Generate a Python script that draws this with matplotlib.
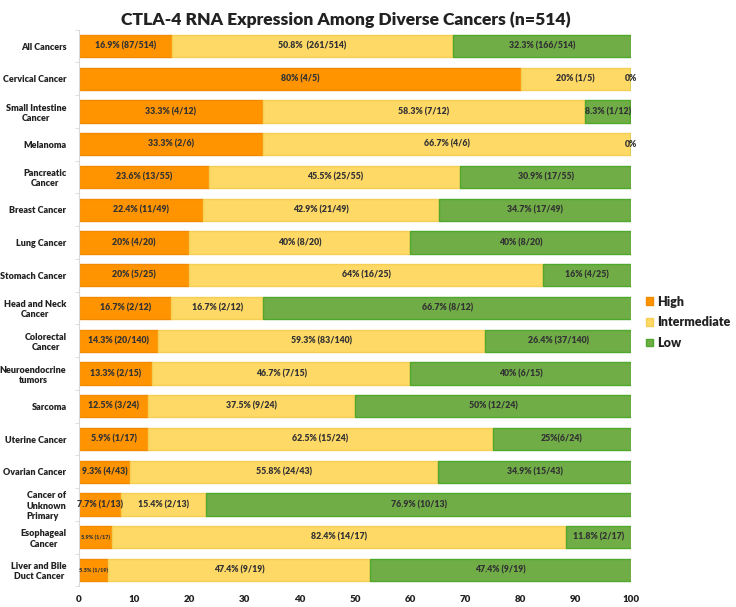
import matplotlib
matplotlib.use("Agg")
import matplotlib.pyplot as plt
import numpy as np

categories = ["All Cancers", "Cervical Cancer", "Small Intestine\nCancer", "Melanoma",
              "Pancreatic\nCancer", "Breast Cancer", "Lung Cancer", "Stomach Cancer",
              "Head and Neck\nCancer", "Colorectal\nCancer", "Neuroendocrine\ntumors",
              "Sarcoma", "Uterine Cancer", "Ovarian Cancer", "Cancer of\nUnknown\nPrimary",
              "Esophageal\nCancer", "Liver and Bile\nDuct Cancer"]

high = [16.9, 80, 33.3, 33.3, 23.6, 22.4, 20, 20, 16.7, 14.3, 13.3, 12.5, 12.5, 9.3, 7.7, 5.9, 5.3]
intermediate = [50.8, 20, 58.3, 66.7, 45.5, 42.9, 40, 64, 16.7, 59.3, 46.7, 37.5, 62.5, 55.8, 15.4, 82.4, 47.4]
low = [32.3, 0, 8.3, 0, 30.9, 34.7, 40, 16, 66.7, 26.4, 40, 50, 25, 34.9, 76.9, 11.8, 47.4]

high_labels = ["16.9% (87/514)", "80% (4/5)", "33.3% (4/12)", "33.3% (2/6)", "23.6% (13/55)",
               "22.4% (11/49)", "20% (4/20)", "20% (5/25)", "16.7% (2/12)", "14.3% (20/140)",
               "13.3% (2/15)", "12.5% (3/24)", "5.9% (1/17)", "9.3% (4/43)", "7.7% (1/13)",
               "5.9% (1/17)", "5.3% (1/19)"]
int_labels = ["50.8%  (261/514)", "20% (1/5)", "58.3% (7/12)", "66.7% (4/6)", "45.5% (25/55)",
              "42.9% (21/49)", "40% (8/20)", "64% (16/25)", "16.7% (2/12)", "59.3% (83/140)",
              "46.7% (7/15)", "37.5% (9/24)", "62.5% (15/24)", "55.8% (24/43)", "15.4% (2/13)",
              "82.4% (14/17)", "47.4% (9/19)"]
low_labels = ["32.3% (166/514)", "0%", "8.3% (1/12)", "0%", "30.9% (17/55)", "34.7% (17/49)",
              "40% (8/20)", "16% (4/25)", "66.7% (8/12)", "26.4% (37/140)", "40% (6/15)",
              "50% (12/24)", "25%(6/24)", "34.9% (15/43)", "76.9% (10/13)", "11.8% (2/17)",
              "47.4% (9/19)"]
x_ticks = [0, 10, 20, 30, 40, 50, 60, 70, 80, 90, 100]

FONT = ["Lato", "DejaVu Sans"]
plt.rcParams['font.family'] = FONT
W = 800

c_high, c_int, c_low = "#FF9400", "#FFD966", "#70AD47"
e_high, e_int, e_low = "#F08A00", "#F5CE55", "#4FA82C"

fig = plt.figure(figsize=(7.36, 6.07), dpi=100)
ax = fig.add_axes([0.1073, 0.034, 0.7500, 0.917])

y = np.arange(len(categories))
h = np.array(high)
m = np.array(intermediate)
l = np.array(low)
bh = 0.68
ax.barh(y, h, height=bh, color=c_high, edgecolor=e_high, linewidth=1, label="High")
ax.barh(y, m, left=h, height=bh, color=c_int, edgecolor=e_int, linewidth=1, label="Intermediate")
ax.barh(y, l, left=h + m, height=bh, color=c_low, edgecolor=e_low, linewidth=1, label="Low")

txtc = "#333333"
for i in range(len(categories)):
    fs = 4 if i >= 15 else 6.3
    ax.text(h[i] / 2, i, high_labels[i], ha="center", va="center", fontsize=fs,
            fontweight=W, color=txtc)
    ax.text(h[i] + m[i] / 2, i, int_labels[i], ha="center", va="center", fontsize=6.3,
            fontweight=W, color=txtc)
    ax.text(h[i] + m[i] + l[i] / 2, i, low_labels[i], ha="center", va="center", fontsize=6.3,
            fontweight=W, color=txtc)

ax.set_ylim(len(categories) - 0.5, -0.5)
ax.set_xlim(0, 100)
ax.set_yticks(y)
ax.set_yticklabels(categories, fontsize=6.5, fontweight=W, color="#222222")
for t, cat in zip(ax.get_yticklabels(), categories):
    t.set_multialignment("left" if cat.startswith("Cancer of") else "center")
ax.tick_params(axis="y", length=0, pad=9)
ax.set_yticks(np.arange(len(categories) + 1) - 0.5, minor=True)
ax.tick_params(axis="y", which="minor", length=3, color="#d9d9d9")
ax.set_xticks(x_ticks)
ax.set_xticklabels([str(v) for v in x_ticks], fontsize=7, fontweight=W, color="#222222")
ax.tick_params(axis="x", length=0, pad=6)
for s in ["top", "right", "bottom"]:
    ax.spines[s].set_visible(False)
ax.spines["left"].set_color("#d9d9d9")

fig.text(0.470, 0.967, "CTLA-4 RNA Expression Among Diverse Cancers (n=514)", ha="center",
         va="center", fontsize=12.6, fontweight=W, color="#222222")

leg = fig.legend(loc="center left", bbox_to_anchor=(0.863, 0.469), frameon=False,
                 prop={"size": 9, "weight": W, "family": FONT},
                 handlelength=0.55, handleheight=0.55, handletextpad=0.3, labelspacing=0.7)
for t in leg.get_texts():
    t.set_color("#222222")

fig.savefig("out.png", dpi=100)
